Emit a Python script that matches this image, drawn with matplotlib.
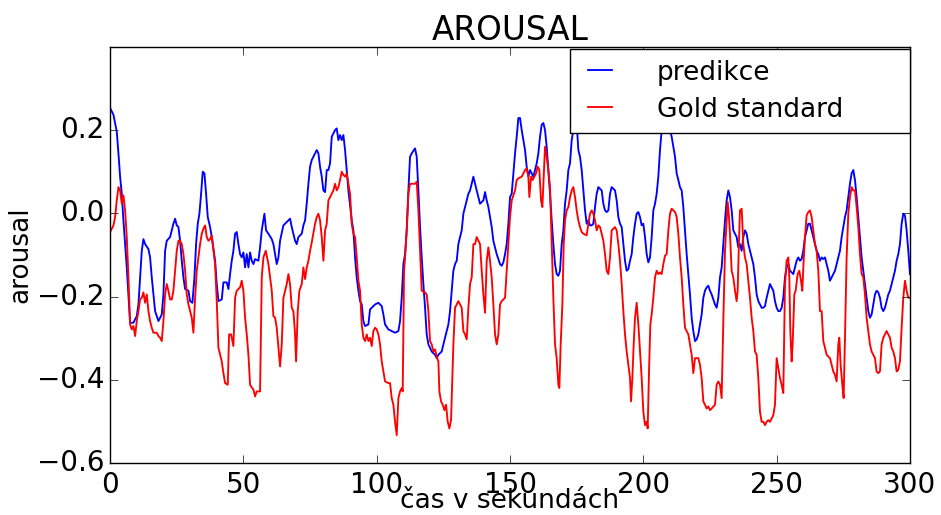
import numpy as np
import matplotlib
matplotlib.use('Agg')
import matplotlib.pyplot as plt

# predikce (blue) - time in s, arousal value
blue_t = [0.0, 1.25, 1.88, 2.5, 3.13, 3.75, 4.38, 5.0, 5.63, 6.25, 6.88, 7.5, 8.75, 10.0, 10.63, 11.25, 11.88,
          12.5, 13.13, 14.38, 15.0, 15.63, 16.25, 16.88, 18.13, 19.38, 20.0, 20.63, 21.25, 22.5, 23.13, 23.75,
          24.38, 25.0, 25.63, 26.25, 26.88, 27.5, 28.13, 29.38, 30.0, 30.88, 31.63, 32.25, 32.88, 33.5, 34.13,
          34.75, 35.38, 36.0, 36.63, 37.5, 38.13,
          39.38, 40.0, 40.63, 41.88, 42.5, 43.75, 44.38, 45.0, 45.63, 46.25, 46.88, 47.5, 48.13, 48.75, 49.38,
          50.0, 50.63, 51.25, 51.88, 52.5, 53.13, 53.75, 54.38, 55.63, 56.25, 56.88, 57.5, 57.88, 58.5, 59.38,
          60.63, 61.25, 61.88, 62.5, 63.13, 63.75, 65.0, 66.25, 67.5, 68.13, 68.75, 69.38, 70.0, 70.63, 71.88,
          72.5, 73.13, 73.75, 74.38, 75.0, 75.63,
          76.88, 77.5, 78.13, 78.75, 79.38, 80.0, 80.63, 81.25, 81.88, 82.5, 83.13, 84.38, 85.0, 85.63, 86.25,
          86.88, 87.5, 88.13, 88.75, 89.38, 90.63, 91.25, 91.88, 92.5, 93.13, 93.75, 94.38, 95.0, 95.63, 96.88,
          97.5, 98.13, 99.38, 100.63, 101.88, 102.5, 103.13, 104.38, 105.63, 106.88, 108.13, 108.75, 109.38,
          110.0, 110.63, 111.25, 111.88, 112.5, 113.13,
          114.38, 115.0, 115.63, 116.25, 116.88, 117.5, 118.13, 118.75, 119.38, 120.63, 121.88, 122.5, 123.13,
          124.38, 125.0, 125.63, 126.25, 126.88, 127.5, 128.13, 128.75, 129.38, 130.0, 130.63, 131.25, 131.88,
          132.5, 133.13, 133.75, 134.38, 135.0, 135.63, 136.25, 136.88, 137.5, 138.75, 140.0, 140.63, 141.25,
          141.88, 142.5, 143.13, 143.75, 144.38, 145.0, 145.63, 146.25, 146.88, 147.5, 148.13, 148.75, 149.38,
          150.0, 150.63,
          151.88, 152.5, 153.13, 153.75, 154.38, 155.0, 155.63, 156.25, 156.88, 157.5, 158.13, 158.75, 159.38,
          160.0, 160.63, 161.25, 161.88, 162.5, 163.13, 163.75, 164.38, 165.0, 165.63, 166.25, 166.88, 167.5,
          168.13, 168.75, 169.38, 170.0, 170.63, 171.25, 171.88, 172.5, 173.13, 173.75, 174.38, 175.0, 175.63,
          176.25, 176.88, 177.5, 178.13, 178.75, 179.38, 180.0, 180.63, 181.25, 181.88, 182.5, 183.13, 183.75,
          184.38, 185.0, 185.63, 186.25, 186.88, 187.5, 188.13,
          189.38, 190.0, 190.63, 191.25, 191.88, 192.5, 193.13, 193.75, 194.38, 195.0, 195.63, 196.25, 196.88,
          197.5, 198.13, 198.75, 199.38, 200.0, 200.63, 201.25, 201.88, 202.5, 203.13, 203.75, 204.38, 205.0,
          205.63, 206.25, 206.88, 207.5, 208.75, 210.0, 210.63, 211.25, 211.88, 212.5, 213.13, 213.75, 214.38,
          215.0, 215.63, 216.25, 216.88, 217.5, 218.13, 218.75, 219.38, 220.0, 220.63, 221.25, 221.88, 222.5,
          223.13, 223.75, 224.38, 225.0, 225.63,
          226.88, 227.5, 228.13, 228.75, 229.38, 230.0, 230.63, 231.25, 231.88, 232.5, 233.13, 233.75, 234.38,
          235.0, 235.63, 236.25, 236.88, 237.5, 238.13, 238.75, 239.38, 240.0, 240.63, 241.25, 241.88, 242.5,
          243.13, 243.75, 244.38, 245.0, 245.63, 246.25, 246.88, 247.5, 248.13, 248.75, 249.38, 250.0, 250.63,
          251.25, 251.88, 252.5, 253.13, 253.75, 254.38, 255.0, 256.25, 256.88, 257.5, 258.13, 258.75, 259.38,
          260.0, 260.63, 261.25, 261.88, 262.5, 263.13,
          264.38, 265.0, 265.63, 266.25, 266.88, 267.5, 268.13, 268.75, 269.38, 270.0, 270.63, 271.25, 271.88,
          272.5, 273.13, 273.75, 274.38, 275.0, 275.63, 276.25, 276.88, 277.5, 278.13, 278.75, 279.38, 280.0,
          280.63, 281.25, 281.88, 282.5, 283.13, 283.75, 284.38, 285.0, 285.63, 286.25, 286.88, 287.5, 288.13,
          288.75, 289.38, 290.0, 290.63, 291.25, 291.88, 292.5, 293.13, 293.75, 294.38, 295.0, 295.63, 296.25,
          296.88, 297.5, 298.13, 298.75, 299.38, 300.0]
blue_v = [0.253, 0.237, 0.217, 0.196, 0.144, 0.088, 0.047, -0.017, -0.074, -0.130, -0.195, -0.263, -0.263, -0.247,
          -0.219, -0.154, -0.090, -0.062, -0.074, -0.086, -0.106, -0.154, -0.195, -0.235, -0.259, -0.243, -0.195,
          -0.090, -0.066, -0.057, -0.041, -0.025, -0.013, -0.029, -0.033, -0.066, -0.114, -0.154, -0.182, -0.186,
          -0.211, -0.215, -0.154, -0.074, -0.025, -0.001, 0.047, 0.100, 0.096, 0.047, -0.009, -0.033, -0.057,
          -0.114, -0.170, -0.211, -0.207, -0.166, -0.166, -0.182, -0.146, -0.114, -0.090, -0.049, -0.045, -0.074,
          -0.098, -0.106, -0.094, -0.130, -0.098, -0.130, -0.094, -0.114, -0.122, -0.110, -0.114, -0.082, -0.041,
          -0.017, -0.001, -0.041, -0.049, -0.062, -0.074, -0.098, -0.122, -0.106, -0.066, -0.029, -0.021, -0.013,
          -0.033, -0.049, -0.066, -0.074, -0.057, -0.049, -0.029, -0.017, 0.023, 0.071, 0.112, 0.128,
          0.144, 0.152, 0.144, 0.112, 0.088, 0.055, 0.051, 0.104, 0.104, 0.120, 0.184, 0.200, 0.204, 0.176, 0.188,
          0.176, 0.188, 0.152, 0.104, 0.055, -0.017, -0.041, -0.106, -0.154, -0.186, -0.211, -0.219, -0.259,
          -0.271, -0.267, -0.231, -0.227, -0.219, -0.215, -0.223, -0.243, -0.267, -0.279, -0.283, -0.287, -0.283,
          -0.259, -0.203, -0.122, -0.098, -0.041, 0.055, 0.136, 0.144,
          0.156, 0.136, 0.055, -0.033, -0.106, -0.170, -0.227, -0.291, -0.315, -0.332, -0.340, -0.348, -0.340,
          -0.332, -0.315, -0.299, -0.283, -0.267, -0.235, -0.186, -0.138, -0.122, -0.114, -0.074, -0.057, -0.041,
          -0.001, 0.015, 0.031, 0.047, 0.055, 0.071, 0.088, 0.071, 0.055, 0.023, 0.031, 0.051, 0.031, 0.015,
          -0.009, -0.033, -0.066, -0.082, -0.098, -0.110, -0.122, -0.126, -0.118, -0.098, -0.074, -0.025, 0.039,
          0.047,
          0.144, 0.184, 0.229, 0.229, 0.200, 0.176, 0.152, 0.112, 0.088, 0.104, 0.096, 0.088, 0.104, 0.120, 0.144,
          0.184, 0.213, 0.217, 0.200, 0.160, 0.104, 0.047, -0.017, -0.074, -0.122, -0.146, -0.150, -0.138, -0.074,
          -0.041, 0.023, 0.055, 0.104, 0.120, 0.176, 0.200, 0.229, 0.217, 0.152, 0.136, 0.104, 0.055, 0.007,
          -0.025, -0.017, -0.029, -0.029, -0.025, 0.015, 0.047, 0.063, 0.059, 0.055, 0.023, 0.007, 0.003, 0.007,
          0.047, 0.063,
          0.055, 0.031, -0.009, -0.025, -0.033, -0.074, -0.114, -0.138, -0.134, -0.114, -0.098, -0.057, -0.025,
          -0.001, 0.003, -0.009, -0.029, -0.025, -0.057, -0.098, -0.118, -0.106, -0.057, 0.007, 0.023, 0.047,
          0.088, 0.152, 0.200, 0.225, 0.217, 0.200, 0.184, 0.160, 0.136, 0.096, 0.080, 0.063, 0.055, 0.015,
          -0.041, -0.098, -0.146, -0.195, -0.251, -0.283, -0.307, -0.303, -0.291, -0.267, -0.243, -0.203, -0.186,
          -0.178, -0.174, -0.186, -0.195,
          -0.219, -0.227, -0.203, -0.154, -0.130, -0.074, -0.017, 0.031, 0.055, 0.039, 0.007, -0.041, -0.049,
          -0.057, -0.082, -0.074, -0.090, -0.057, -0.041, -0.049, -0.074, -0.090, -0.106, -0.122, -0.154, -0.195,
          -0.211, -0.219, -0.227, -0.227, -0.223, -0.203, -0.186, -0.170, -0.178, -0.186, -0.211, -0.227, -0.235,
          -0.235, -0.227, -0.203, -0.154, -0.130, -0.122, -0.138, -0.146, -0.130, -0.114, -0.106, -0.114, -0.110,
          -0.090, -0.057, -0.041, -0.025, -0.025, -0.041,
          -0.074, -0.090, -0.098, -0.114, -0.106, -0.110, -0.106, -0.122, -0.138, -0.162, -0.154, -0.146, -0.138,
          -0.122, -0.106, -0.090, -0.057, -0.033, -0.009, 0.007, 0.039, 0.071, 0.096, 0.104, 0.080, 0.039, -0.009,
          -0.057, -0.106, -0.138, -0.170, -0.203, -0.235, -0.251, -0.243, -0.219, -0.195, -0.186, -0.190, -0.203,
          -0.227, -0.235, -0.227, -0.211, -0.195, -0.186, -0.170, -0.154, -0.138, -0.114, -0.098, -0.074, -0.025,
          -0.001, -0.005, -0.041, -0.090, -0.146]

# Gold standard (red)
red_t = [0.0, 1.25, 1.88, 2.5, 3.13, 3.75, 4.38, 5.0, 5.63, 6.25, 6.88, 7.5, 8.13, 8.75, 9.38, 10.0, 10.63,
         11.25, 11.88, 12.5, 13.13, 13.75, 14.38, 15.0, 15.63, 16.25, 17.5, 18.13, 18.75, 19.38, 20.0, 20.63,
         21.25, 21.88, 22.5, 23.13, 23.75, 24.38, 25.0, 25.63, 26.25, 26.88, 27.5, 28.13, 28.75, 29.38, 30.63,
         31.25, 31.88, 32.5, 33.13, 33.75, 34.38, 35.0, 35.63, 36.25, 36.88, 37.5, 38.13,
         39.38, 40.0, 40.63, 41.88, 42.5, 43.13, 44.13, 44.63, 45.38, 46.25, 46.88, 47.5, 48.13, 48.75, 49.38,
         50.0, 50.63, 51.25, 51.88, 52.5, 53.75, 54.38, 55.0, 56.25, 56.88, 57.5, 58.38, 59.38, 60.0, 60.63,
         61.25, 61.88, 62.5, 63.13, 63.75, 64.38, 65.0, 65.63, 66.25, 66.88, 67.5, 68.13, 68.75, 69.38, 69.75,
         70.38, 71.0, 71.88, 72.5, 73.13, 73.75, 74.38, 75.0, 75.63,
         76.88, 77.5, 78.13, 78.75, 79.38, 80.0, 80.63, 81.25, 81.88, 83.13, 83.75, 84.38, 85.0, 85.63, 86.25,
         86.88, 87.5, 88.13, 88.75, 89.38, 90.0, 90.63, 91.25, 91.88, 92.5, 93.13, 93.75, 94.38, 95.0, 95.63,
         96.25, 96.88, 97.5, 98.13, 98.75, 99.38, 100.0, 100.63, 101.25, 101.88, 102.5, 103.13, 104.38, 105.0,
         105.63, 106.25, 106.88, 107.5, 108.13, 108.75, 109.38, 109.75, 110.25, 110.63, 111.25, 111.88, 112.5,
         113.13,
         114.38, 115.0, 115.63, 116.25, 116.88, 118.13, 118.75, 119.38, 120.0, 120.63, 121.25, 121.88, 122.5,
         123.13, 123.5, 124.13, 124.75, 125.38, 126.0, 126.63, 127.25, 127.88, 128.75, 129.38, 130.63, 131.88,
         132.5, 133.13, 133.75, 134.38, 135.0, 135.63, 136.25, 136.88, 137.5, 138.13, 138.75, 139.38, 140.0,
         140.63, 141.25, 141.88, 142.5, 143.13, 143.75, 144.38, 145.0, 145.63, 146.25, 146.88, 148.13, 148.75,
         149.38, 150.0, 150.63,
         151.88, 152.5, 153.13, 154.38, 155.0, 155.63, 156.25, 156.88, 157.25, 157.88, 158.5, 159.13, 159.75,
         160.38, 161.0, 161.63, 162.13, 162.63, 163.13, 163.75, 164.38, 165.0, 165.63, 166.25, 166.88, 167.5,
         168.13, 168.5, 169.0, 169.63, 170.13, 170.63, 171.25, 171.88, 172.5, 173.13, 173.75, 174.38, 175.0,
         175.63, 176.25, 176.88, 177.5, 178.75, 179.38, 180.0, 180.63, 181.25, 181.88, 182.5, 183.13, 183.75,
         184.38, 185.0, 185.63, 186.25, 186.88, 187.5, 188.13,
         189.38, 190.0, 190.63, 191.25, 191.88, 192.5, 193.13, 193.75, 194.38, 195.0, 195.38, 195.88, 196.38,
         196.88, 197.5, 198.13, 198.75, 199.38, 200.0, 200.63, 201.25, 201.63, 202.13, 202.63, 203.13, 203.75,
         204.38, 205.0, 205.63, 206.25, 206.88, 207.5, 208.13, 208.75, 209.38, 210.0, 210.63, 211.25, 211.88,
         212.5, 213.13, 213.75, 214.38, 215.0, 215.63, 216.88, 217.5, 218.13, 218.75, 219.38, 220.63, 221.25,
         221.88, 222.5, 223.13, 223.75, 224.38, 225.0, 225.63,
         226.88, 227.5, 228.13, 228.75, 229.38, 230.0, 230.63, 231.25, 231.63, 232.13, 232.5, 233.13, 233.75,
         234.38, 235.0, 235.38, 235.88, 236.25, 236.88, 237.5, 238.13, 238.75, 239.38, 240.0, 240.63, 241.25,
         241.88, 242.5, 243.13, 243.75, 244.38, 245.0, 245.63, 246.25, 246.88, 247.5, 248.13, 248.75, 249.38,
         250.0, 250.63, 251.25, 251.88, 252.5, 253.13, 253.75, 254.38, 254.75, 255.13, 255.63, 256.0, 256.63,
         257.13, 257.88, 258.5, 259.13, 259.63, 260.13, 260.63, 261.25, 261.88, 262.5, 263.13,
         264.38, 265.0, 265.63, 266.25, 266.88, 267.5, 268.13, 268.75, 269.38, 270.0, 270.63, 271.25, 271.88,
         272.5, 273.13, 273.5, 274.0, 274.63, 275.13, 275.63, 276.25, 276.88, 277.5, 278.13, 278.75, 279.38,
         280.0, 280.63, 281.25, 281.88, 282.5, 283.13, 283.75, 284.38, 285.0, 285.63, 286.25, 286.88, 287.5,
         288.13, 288.75, 289.38, 290.0, 290.63, 291.25, 291.88, 292.5, 293.13, 293.75, 294.38, 295.0, 295.63,
         296.25, 296.88, 297.5, 298.13, 298.75, 299.38, 300.0]
red_v = [-0.045, -0.029, -0.009, 0.031, 0.063, 0.055, 0.023, 0.043, 0.007, -0.057, -0.154, -0.267, -0.279, -0.271,
         -0.295, -0.259, -0.235, -0.207, -0.203, -0.190, -0.215, -0.195, -0.235, -0.259, -0.275, -0.287, -0.287,
         -0.295, -0.299, -0.307, -0.259, -0.195, -0.170, -0.186, -0.207, -0.207, -0.186, -0.138, -0.090, -0.066,
         -0.066, -0.074, -0.098, -0.138, -0.195, -0.219, -0.251, -0.287, -0.203, -0.138, -0.106, -0.074, -0.049,
         -0.037, -0.029, -0.057, -0.066, -0.062, -0.053,
         -0.122, -0.211, -0.323, -0.356, -0.384, -0.408, -0.412, -0.291, -0.291, -0.319, -0.203, -0.186, -0.182,
         -0.178, -0.162, -0.186, -0.251, -0.291, -0.340, -0.412, -0.424, -0.440, -0.428, -0.428, -0.154, -0.106,
         -0.090, -0.122, -0.154, -0.186, -0.247, -0.251, -0.275, -0.323, -0.368, -0.315, -0.203, -0.186, -0.170,
         -0.146, -0.170, -0.227, -0.235, -0.291, -0.356, -0.235, -0.186, -0.170, -0.130, -0.158, -0.130, -0.114,
         -0.090, -0.070,
         -0.025, -0.009, -0.001, -0.017, -0.057, -0.114, -0.041, -0.025, 0.031, 0.047, 0.055, 0.071, 0.055, 0.063,
         0.080, 0.100, 0.092, 0.088, 0.096, 0.071, 0.047, -0.025, -0.049, -0.057, -0.106, -0.162, -0.186, -0.267,
         -0.299, -0.307, -0.291, -0.307, -0.299, -0.319, -0.283, -0.275, -0.279, -0.291, -0.315, -0.356, -0.380,
         -0.404, -0.408, -0.408, -0.444, -0.460, -0.501, -0.533, -0.444, -0.428, -0.420, -0.428, -0.138, -0.106,
         -0.041, 0.047, 0.071, 0.071,
         0.071, 0.076, 0.007, -0.090, -0.186, -0.190, -0.195, -0.235, -0.307, -0.315, -0.332, -0.327, -0.344,
         -0.356, -0.428, -0.452, -0.460, -0.473, -0.460, -0.501, -0.517, -0.497, -0.315, -0.227, -0.211, -0.227,
         -0.283, -0.291, -0.303, -0.227, -0.170, -0.154, -0.074, -0.074, -0.057, -0.066, -0.074, -0.138, -0.195,
         -0.239, -0.114, -0.082, -0.114, -0.154, -0.219, -0.291, -0.315, -0.291, -0.219, -0.211, -0.203, -0.138,
         -0.074, -0.009, 0.031,
         0.055, 0.080, 0.084, 0.088, 0.096, 0.104, 0.108, 0.088, 0.039, 0.088, 0.080, 0.088, 0.096, 0.112, 0.104,
         0.031, 0.015, 0.088, 0.160, 0.136, 0.104, 0.063, -0.074, -0.203, -0.315, -0.348, -0.412, -0.420, -0.315,
         -0.219, -0.074, -0.017, 0.007, 0.015, 0.039, 0.055, 0.063, 0.039, 0.007, -0.017, -0.033, -0.045, -0.049,
         -0.053, -0.025, -0.001, 0.007, -0.001, -0.017, -0.041, -0.029, -0.033, -0.049, -0.066, -0.098, -0.138,
         -0.146, -0.106, -0.041,
         -0.033, -0.041, -0.074, -0.114, -0.170, -0.235, -0.291, -0.332, -0.364, -0.396, -0.452, -0.396, -0.315,
         -0.251, -0.215, -0.267, -0.332, -0.396, -0.477, -0.509, -0.501, -0.517, -0.380, -0.267, -0.243, -0.203,
         -0.154, -0.138, -0.146, -0.142, -0.146, -0.122, -0.102, -0.098, -0.041, -0.001, 0.011, 0.007, 0.003,
         -0.009, -0.049, -0.106, -0.154, -0.219, -0.275, -0.291, -0.315, -0.340, -0.384, -0.348, -0.348, -0.364,
         -0.396, -0.452, -0.460, -0.469, -0.464, -0.473, -0.469,
         -0.460, -0.412, -0.404, -0.412, -0.444, -0.259, -0.090, -0.017, 0.027, -0.009, -0.049, -0.138, -0.154,
         -0.186, -0.211, -0.186, -0.066, 0.007, 0.011, -0.074, -0.106, -0.122, -0.162, -0.203, -0.251, -0.283,
         -0.332, -0.340, -0.396, -0.477, -0.501, -0.501, -0.509, -0.501, -0.497, -0.501, -0.493, -0.485, -0.460,
         -0.348, -0.372, -0.396, -0.412, -0.432, -0.170, -0.114, -0.106, -0.154, -0.283, -0.356, -0.315, -0.195,
         -0.186, -0.146, -0.138, -0.162, -0.186, -0.114, -0.057, -0.005, 0.003, 0.007, -0.009,
         -0.074, -0.090, -0.138, -0.235, -0.235, -0.307, -0.323, -0.340, -0.344, -0.348, -0.364, -0.380, -0.388,
         -0.404, -0.315, -0.299, -0.364, -0.412, -0.444, -0.299, -0.106, -0.001, 0.039, 0.063, 0.055, 0.055,
         0.015, -0.033, -0.098, -0.146, -0.154, -0.195, -0.251, -0.283, -0.315, -0.332, -0.340, -0.348, -0.380,
         -0.384, -0.380, -0.315, -0.299, -0.291, -0.283, -0.291, -0.299, -0.323, -0.332, -0.348, -0.380, -0.376,
         -0.356, -0.275, -0.203, -0.162, -0.186, -0.203, -0.203]

x_ticks = [0, 50, 100, 150, 200, 250, 300]
y_ticks = [-0.6, -0.4, -0.2, 0.0, 0.2]

plt.style.use('classic')
plt.rcParams['figure.facecolor'] = 'white'
plt.rcParams['savefig.facecolor'] = 'white'

fig = plt.figure(figsize=(9.41, 5.15), dpi=100)
ax = fig.add_axes([0.117, 0.101, 0.850, 0.808])

ax.plot(blue_t, blue_v, color='b', lw=1.35, label='predikce')
ax.plot(red_t, red_v, color='r', lw=1.35, label='Gold standard')

ax.set_xlim(0, 300)
ax.set_ylim(-0.6, 0.4)
ax.set_xticks(x_ticks)
ax.set_yticks(y_ticks)
ax.tick_params(labelsize=20, direction='in', length=6, top=True, right=True)
ax.tick_params(axis='x', pad=6)

ax.set_title('AROUSAL', fontsize=23.5, pad=5)
ax.set_xlabel('čas v sekundách', fontsize=19)
ax.set_ylabel('arousal', fontsize=19)
ax.xaxis.set_label_coords(0.5, -0.06)
ax.yaxis.set_label_coords(-0.096, 0.5)

leg = ax.legend(loc='upper right', bbox_to_anchor=(0.575, 0.795, 0.425, 0.2), mode='expand',
                borderaxespad=0, fontsize=19, handlelength=1.5, handletextpad=1.4,
                labelspacing=0.42, borderpad=0.4, fancybox=False, numpoints=2)
leg.get_frame().set_edgecolor('black')
leg.get_frame().set_linewidth(1.0)

fig.savefig('out.png', dpi=100)
